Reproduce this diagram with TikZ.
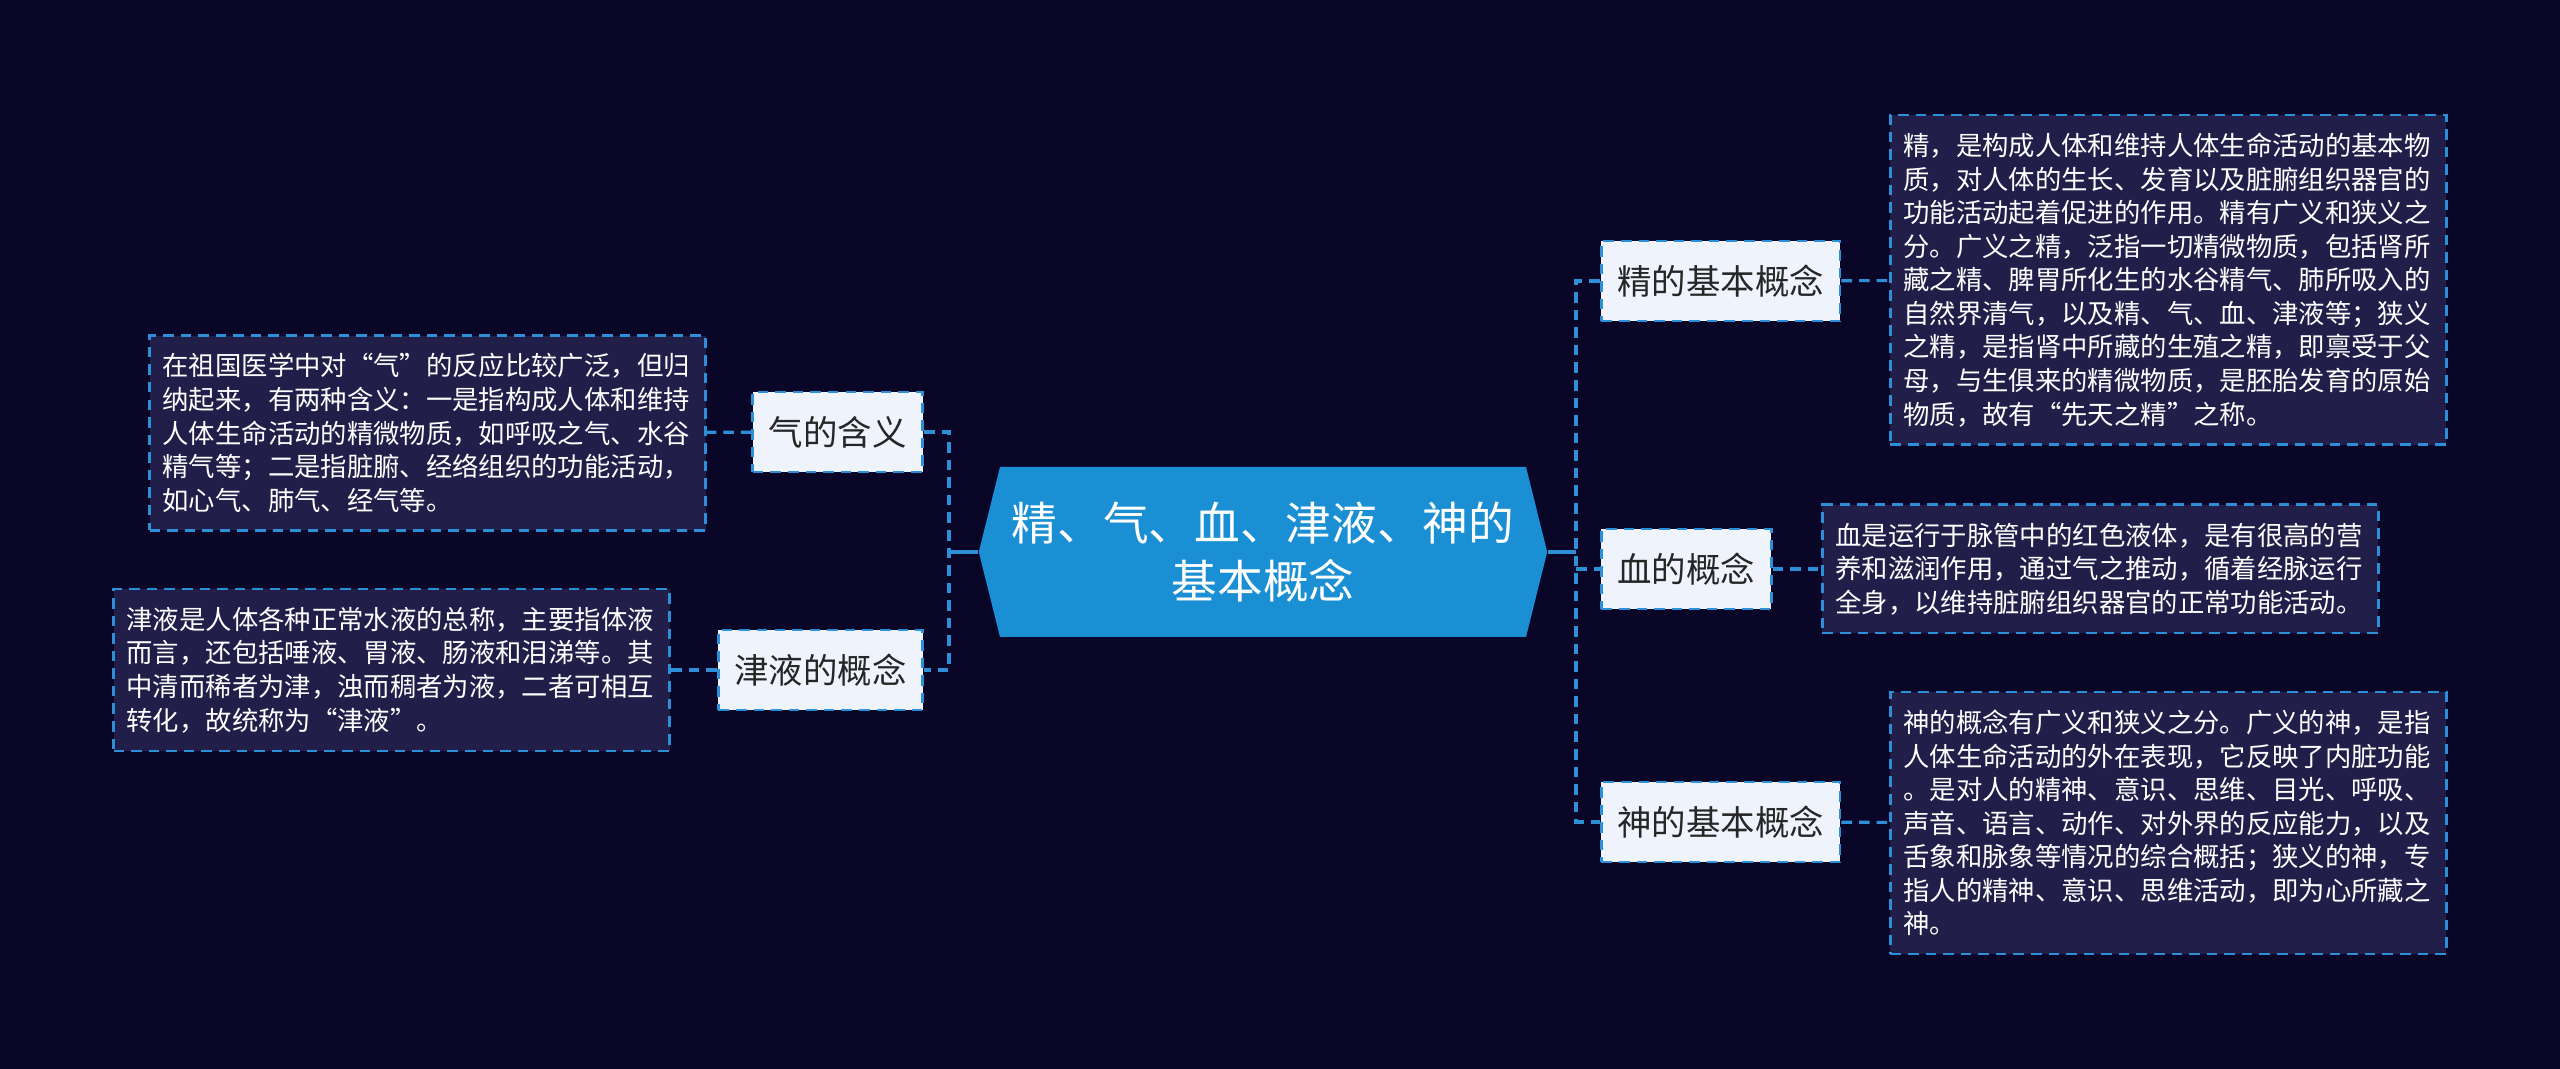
\documentclass[tikz,border=0pt]{standalone}
\usepackage{fontspec}
\setmainfont{Noto Sans CJK SC}
\usepackage{tikz}
\usetikzlibrary{positioning,shapes.symbols,calc}
\usepackage{xcolor}
\definecolor{bgnavy}{HTML}{0A0627}
\definecolor{rootblue}{HTML}{1B8FD3}
\definecolor{linkblue}{HTML}{2C8FD8}
\definecolor{boxpale}{HTML}{EEF3FC}
\definecolor{descfill}{HTML}{221E4A}

\begin{document}
\begin{tikzpicture}[
      root/.style={signal, signal to=east and west, signal pointer angle=152, fill=rootblue,
        minimum width=5.56cm, minimum height=1.7cm, align=center, text=white,
        font=\fontsize{13}{16.3}\selectfont},
      topic/.style={draw=linkblue, fill=boxpale, line width=0.8pt, dash pattern=on 3pt off 2pt,
        minimum height=0.8cm, inner xsep=0.16cm, text=black!85, font=\fontsize{9.8}{12}\selectfont},
      desc/.style={draw=linkblue, fill=descfill, line width=0.8pt, dash pattern=on 3pt off 2pt,
        text width=5.3cm, align=left, inner xsep=0.13cm, inner ysep=0.18cm, text=white,
        font=\fontsize{7.5}{9.55}\selectfont},
      dlink/.style={draw=linkblue, line width=0.9pt, dash pattern=on 3pt off 2pt},
      slink/.style={draw=linkblue, line width=1.1pt}]
    \fill[bgnavy] (0,0) rectangle (25.6,10.69);
    \useasboundingbox (0,0) rectangle (25.6,10.69);

    \node[root] (root) at (12.63,5.17) {精、气、血、津液、神的\\基本概念};

    % right side
    \node[topic, anchor=west] (jing) at (16.00,7.88) {精的基本概念};
    \node[topic, anchor=west] (xue) at (16.00,5.00) {血的概念};
    \node[topic, anchor=west] (shen) at (16.00,2.47) {神的基本概念};
    \node[desc, anchor=west] (jingd) at (18.89,7.89) {精，是构成人体和维持人体生命活动的基本物\\质，对人体的生长、发育以及脏腑组织器官的\\功能活动起着促进的作用。精有广义和狭义之\\分。广义之精，泛指一切精微物质，包括肾所\\藏之精、脾胃所化生的水谷精气、肺所吸入的\\自然界清气，以及精、气、血、津液等；狭义\\之精，是指肾中所藏的生殖之精，即禀受于父\\母，与生俱来的精微物质，是胚胎发育的原始\\物质，故有“先天之精”之称。};
    \node[desc, anchor=west] (xued) at (18.21,5.00) {血是运行于脉管中的红色液体，是有很高的营\\养和滋润作用，通过气之推动，循着经脉运行\\全身，以维持脏腑组织器官的正常功能活动。};
    \node[desc, anchor=west] (shend) at (18.89,2.46) {神的概念有广义和狭义之分。广义的神，是指\\人体生命活动的外在表现，它反映了内脏功能\\。是对人的精神、意识、思维、目光、呼吸、\\声音、语言、动作、对外界的反应能力，以及\\舌象和脉象等情况的综合概括；狭义的神，专\\指人的精神、意识、思维活动，即为心所藏之\\神。};

    % left side
    \node[topic, anchor=east] (qi) at (9.24,6.37) {气的含义};
    \node[topic, anchor=east] (jinye) at (9.24,3.99) {津液的概念};
    \node[desc, anchor=east] (qid) at (7.07,6.36) {在祖国医学中对“气”的反应比较广泛，但归\\纳起来，有两种含义：一是指构成人体和维持\\人体生命活动的精微物质，如呼吸之气、水谷\\精气等；二是指脏腑、经络组织的功能活动，\\如心气、肺气、经气等。};
    \node[desc, anchor=east] (jinyed) at (6.71,3.99) {津液是人体各种正常水液的总称，主要指体液\\而言，还包括唾液、胃液、肠液和泪涕等。其\\中清而稀者为津，浊而稠者为液，二者可相互\\转化，故统称为“津液”。};

    \coordinate (rbus) at (15.76,5.17);
    \coordinate (lbus) at (9.49,5.17);

    \draw[slink] (root.east) -- (rbus);
    \draw[slink] (root.west) -- (lbus);
    \draw[dlink] (jing.west) -| (rbus) |- (shen.west);
    \draw[dlink] (rbus |- xue.west) -- (xue.west);
    \draw[dlink] (qi.east) -| (lbus) |- (jinye.east);

    \draw[dlink] (jing) -- (jingd);
    \draw[dlink] (xue) -- (xued);
    \draw[dlink] (shen) -- (shend);
    \draw[dlink] (qi) -- (qid);
    \draw[dlink] (jinye) -- (jinyed);
  \end{tikzpicture}
\end{document}
